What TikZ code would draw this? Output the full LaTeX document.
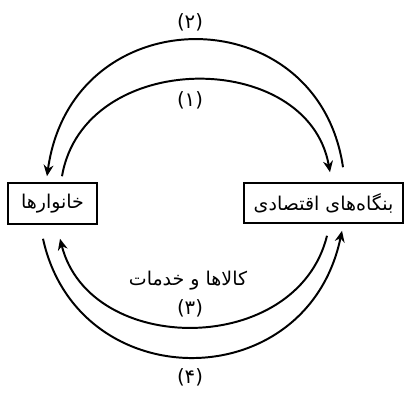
\documentclass[tikz,border=0pt]{standalone}
\usepackage{fontspec}
\newfontfamily\farsifont[Script=Arabic]{DejaVu Sans}
\TeXXeTstate=1
\usetikzlibrary{arrows.meta,calc}

\tikzset{
    sector/.style={draw, line width=1.1pt, inner sep=0pt, font=\farsifont\fontsize{13.5}{16}\selectfont},
    flow/.style={-{Stealth[length=8pt,width=7pt]}, line width=1.4pt},
    numlabel/.style={font=\farsifont\fontsize{14}{16}\selectfont}
}

\begin{document}
\begin{tikzpicture}[x=0.025cm, y=-0.025cm]
    \useasboundingbox (0,0) rectangle (405,392);

    % Sectors
    \node[sector, minimum width=2.225cm, minimum height=1.025cm] (house) at (52.5,203.5) {\beginR خانوارها\endR};
    \node[sector, minimum width=3.975cm, minimum height=1cm] (firm) at (323.5,203) {\beginR بنگاه‌های اقتصادی\endR};

    % Ends of the flows
    \coordinate (h2) at ($(house.north)+(-5.5,-6)$);
    \coordinate (h1) at ($(house.north)+(9.5,-6)$);
    \coordinate (h3) at ($(house.south)+(7.5,14)$);
    \coordinate (h4) at ($(house.south)+(-9.5,14)$);
    \coordinate (f2) at ($(firm.north)+(19.5,-15)$);
    \coordinate (f1) at ($(firm.north)+(6.5,-10)$);
    \coordinate (f3) at ($(firm.south)+(3.5,12)$);
    \coordinate (f4) at ($(firm.south)+(18.5,7)$);

    % Upper flows
    \draw[flow] (f2) .. controls (318,-4) and (72,-4) .. (h2);
    \draw[flow] (h1) .. controls (84,48) and (308,48) .. (f1);

    % Lower flows
    \draw[flow] (f3) .. controls (297,357) and (90,357) .. (h3);
    \draw[flow] (h4) .. controls (78,398) and (307,398) .. (f4);

    % Labels
    \node[numlabel] (lab2) at (190,22) {(۲)};
    \node[numlabel] (lab1) at (190,100) {(۱)};
    \node[numlabel, font=\farsifont\fontsize{13.5}{16}\selectfont] (goods) at (188,281) {\beginR کالاها و خدمات\endR};
    \node[numlabel] (lab3) at (190,308) {(۳)};
    \node[numlabel] (lab4) at (190,377) {(۴)};
\end{tikzpicture}
\end{document}
